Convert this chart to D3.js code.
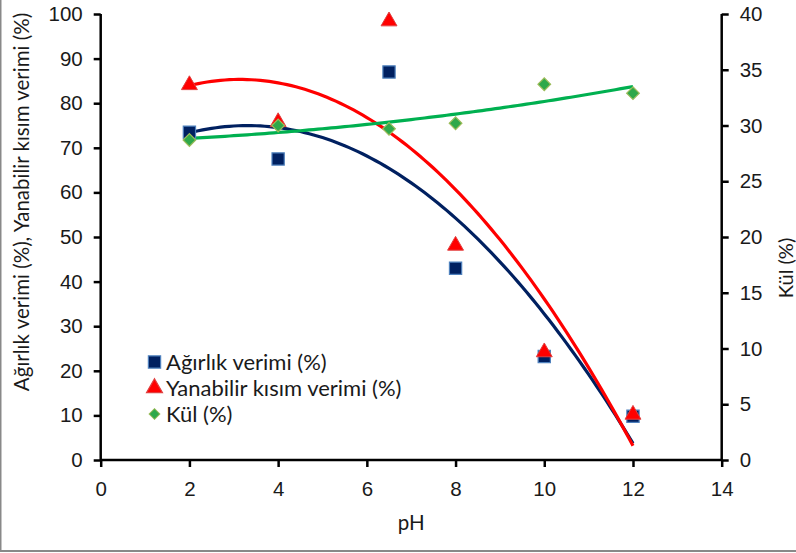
<!DOCTYPE html>
<html>
<head>
<meta charset="utf-8">
<script src="https://cdn.jsdelivr.net/npm/d3@7"></script>
<style>
  body { margin: 0; background: #fff; }
  svg { display: block; font-family: Lato, "Open Sans", sans-serif; }
</style>
</head>
<body>
<svg width="796" height="553"></svg>
<script>
// ---- Dados
const phValues = [2, 4, 6.5, 8, 10, 12];
const agirlik = [73.5, 67.5, 87, 43, 23.2, 9.8];
const yanabilir = [84.3, 76, 98.6, 48.3, 24.4, 10.4];
const kul = [28.7, 30.0, 29.7, 30.2, 33.7, 32.9];

const xTicks = [0, 2, 4, 6, 8, 10, 12, 14];
const yLeftTicks = [0, 10, 20, 30, 40, 50, 60, 70, 80, 90, 100];
const yRightTicks = [0, 5, 10, 15, 20, 25, 30, 35, 40];

const svg = d3.select('svg');

// moldura cinza
svg.append('rect')
    .attr('x', 0.5).attr('y', -10)
    .attr('width', 810).attr('height', 561)
    .attr('fill', 'none')
    .attr('stroke', '#898989')
    .attr('stroke-width', 2);

const x = d3.scaleLinear().domain([0, 14]).range([100.7, 721.7]);
const yL = d3.scaleLinear().domain([0, 100]).range([460, 14]);
const yR = d3.scaleLinear().domain([0, 40]).range([460, 14]);

// ---- ajuste polinomial de ordem 2 (linha de tendência)
function polyFit2(xs, ys) {
    const n = xs.length;
    let s = [0, 0, 0, 0, 0], t = [0, 0, 0];
    for (let i = 0; i < n; i++) {
        for (let k = 0; k < 5; k++) s[k] += Math.pow(xs[i], k);
        for (let k = 0; k < 3; k++) t[k] += ys[i] * Math.pow(xs[i], k);
    }
    const A = [[s[0], s[1], s[2], t[0]], [s[1], s[2], s[3], t[1]], [s[2], s[3], s[4], t[2]]];
    for (let c = 0; c < 3; c++) {
        for (let r = c + 1; r < 3; r++) {
            const f = A[r][c] / A[c][c];
            for (let k = c; k < 4; k++) A[r][k] -= f * A[c][k];
        }
    }
    const b = [0, 0, 0];
    for (let r = 2; r >= 0; r--) {
        let v = A[r][3];
        for (let k = r + 1; k < 3; k++) v -= A[r][k] * b[k];
        b[r] = v / A[r][r];
    }
    return xv => b[0] + b[1] * xv + b[2] * xv * xv;
}

const xsFit = d3.range(2, 12.001, 0.1);
const line = (f, y) => d3.line().x(d => x(d)).y(d => y(f(d)))(xsFit);

const g = svg.append('g');

// Eixo X
const xAxis = g.append('g')
    .attr('transform', 'translate(0,460)')
    .call(d3.axisBottom(x).tickValues(xTicks).tickSize(7).tickPadding(14).tickFormat(d3.format('d')));
// Eixo Y esquerdo
const yAxisL = g.append('g')
    .attr('transform', 'translate(100.7,0)')
    .call(d3.axisLeft(yL).tickValues(yLeftTicks).tickSize(7).tickPadding(11));
// Eixo Y direito
const yAxisR = g.append('g')
    .attr('transform', 'translate(721.7,0)')
    .call(d3.axisRight(yR).tickValues(yRightTicks).tickSize(7).tickPadding(11));

[xAxis, yAxisL, yAxisR].forEach(a => {
    a.select('.domain').attr('stroke', '#000').attr('stroke-width', 2.5);
    a.selectAll('.tick line').attr('stroke', '#000').attr('stroke-width', 2.5);
    a.selectAll('.tick text').attr('fill', '#1a1a1a').style('font-size', '20.5px');
});
xAxis.select('.domain').attr('d', `M${x(0)},0H${x(14)}`);
yAxisL.select('.domain').attr('d', `M0,${yL(0)}V${yL(100)}`);
yAxisR.select('.domain').attr('d', `M0,${yR(0)}V${yR(40)}`);

// Linhas de tendência
const fA = polyFit2(phValues, agirlik);
const fY = polyFit2(phValues, yanabilir);
const fK = polyFit2(phValues, kul);

g.append('path').attr('d', line(fA, yL)).attr('fill', 'none').attr('stroke', '#002060').attr('stroke-width', 3.2);
g.append('path').attr('d', line(fY, yL)).attr('fill', 'none').attr('stroke', '#ff0000').attr('stroke-width', 3.2);
g.append('path').attr('d', line(fK, yR)).attr('fill', 'none').attr('stroke', '#00b050').attr('stroke-width', 3.2);

// Marcadores
const sq = d3.symbol().type(d3.symbolSquare).size(150);
const tri = d3.symbol().type(d3.symbolTriangle).size(110);
const dia = d3.symbol().type(d3.symbolSquare).size(80); // girado 45°

g.selectAll('.sq').data(phValues).join('path')
    .attr('class', 'sq')
    .attr('d', sq)
    .attr('transform', (d, i) => `translate(${x(d)},${yL(agirlik[i])})`)
    .attr('fill', '#002060').attr('stroke', '#4f81bd').attr('stroke-width', 1.2);

g.selectAll('.tri').data(phValues).join('path')
    .attr('class', 'tri')
    .attr('d', tri)
    .attr('transform', (d, i) => `translate(${x(d)},${yL(yanabilir[i]) + 1})`)
    .attr('fill', '#ff0000').attr('stroke', '#e04040').attr('stroke-width', 1);

g.selectAll('.dia').data(phValues).join('path')
    .attr('class', 'dia')
    .attr('d', dia)
    .attr('transform', (d, i) => `translate(${x(d)},${yR(kul[i])}) rotate(45)`)
    .attr('fill', '#2ea84a').attr('stroke', '#9bbb59').attr('stroke-width', 1.2);

// Legenda
const legend = [
    { label: 'Ağırlık verimi (%)', sym: sq, fill: '#002060', stroke: '#4f81bd', tf: '' },
    { label: 'Yanabilir kısım verimi (%)', sym: tri, fill: '#ff0000', stroke: '#e04040', tf: '' },
    { label: 'Kül (%)', sym: dia, fill: '#2ea84a', stroke: '#9bbb59', tf: ' rotate(45) scale(0.85)' }
];
const lg = svg.append('g');
legend.forEach((d, i) => {
    const cy = 362 + i * 26;
    lg.append('path')
        .attr('d', d.sym)
        .attr('transform', `translate(154.5,${cy})${d.tf}`)
        .attr('fill', d.fill).attr('stroke', d.stroke).attr('stroke-width', 1.2);
    lg.append('text')
        .attr('x', 166).attr('y', cy + 7.5)
        .attr('fill', '#1a1a1a')
        .style('font-size', '22px')
        .text(d.label);
});

// Títulos dos eixos
svg.append('text')
    .attr('transform', 'translate(29,202) rotate(-90)')
    .attr('text-anchor', 'middle')
    .attr('fill', '#1a1a1a')
    .style('font-size', '20.5px')
    .text('Ağırlık verimi (%), Yanabilir kısım verimi (%)');

svg.append('text')
    .attr('transform', 'translate(793,268) rotate(-90)')
    .attr('text-anchor', 'middle')
    .attr('fill', '#1a1a1a')
    .style('font-size', '20px')
    .text('Kül (%)');

svg.append('text')
    .attr('x', x(7)).attr('y', 530)
    .attr('text-anchor', 'middle')
    .attr('fill', '#1a1a1a')
    .style('font-size', '20.5px')
    .text('pH');
</script>
</body>
</html>
